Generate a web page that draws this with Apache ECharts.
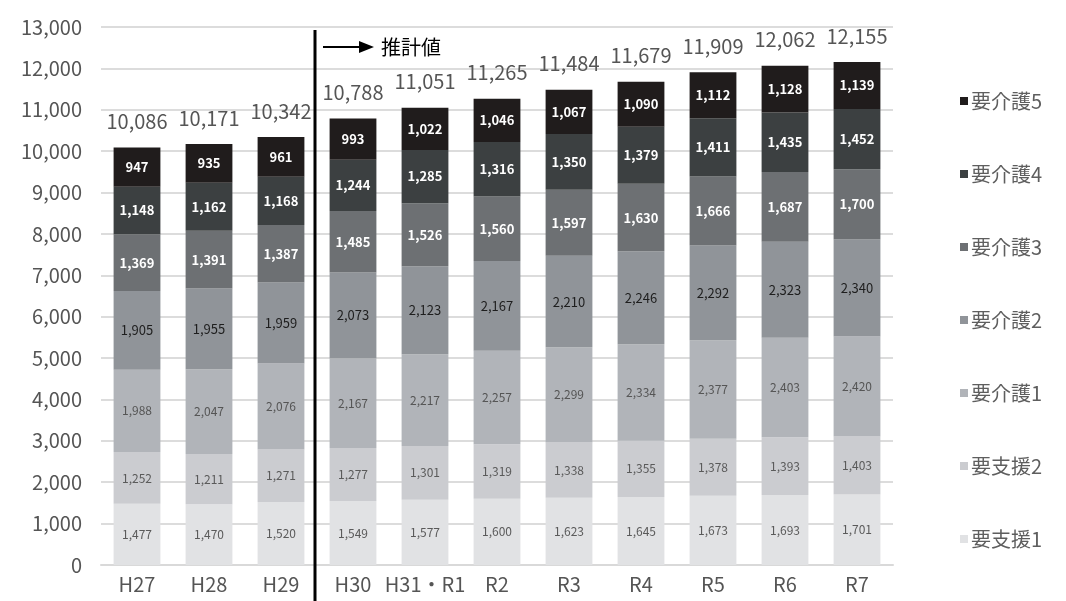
<!DOCTYPE html>
<html lang="ja">
<head>
<meta charset="utf-8">
<title>要介護認定者数の推移</title>
<script src="https://cdn.jsdelivr.net/npm/echarts@6/dist/echarts.min.js"></script>
<style>
  html, body { margin: 0; padding: 0; background: #fff; }
  #chart { width: 1066px; height: 601px; }
</style>
</head>
<body>
<div id="chart"></div>
<script>
// 年度
const categories = ['H27', 'H28', 'H29', 'H30', 'H31・R1', 'R2', 'R3', 'R4', 'R5', 'R6', 'R7'];

// 区分別の認定者数（人）
const shien1 = [1477, 1470, 1520, 1549, 1577, 1600, 1623, 1645, 1673, 1693, 1701];
const shien2 = [1252, 1211, 1271, 1277, 1301, 1319, 1338, 1355, 1378, 1393, 1403];
const kaigo1 = [1988, 2047, 2076, 2167, 2217, 2257, 2299, 2334, 2377, 2403, 2420];
const kaigo2 = [1905, 1955, 1959, 2073, 2123, 2167, 2210, 2246, 2292, 2323, 2340];
const kaigo3 = [1369, 1391, 1387, 1485, 1526, 1560, 1597, 1630, 1666, 1687, 1700];
const kaigo4 = [1148, 1162, 1168, 1244, 1285, 1316, 1350, 1379, 1411, 1435, 1452];
const kaigo5 = [947, 935, 961, 993, 1022, 1046, 1067, 1090, 1112, 1128, 1139];

// 推計値の始まる年度
const estimateFrom = 'H30';
const estimateLabel = '推計値';

const layers = [
  { name: '要支援1', data: shien1, color: '#e1e2e4', text: '#5a5a5a', weight: 'normal' },
  { name: '要支援2', data: shien2, color: '#cbccd0', text: '#5a5a5a', weight: 'normal' },
  { name: '要介護1', data: kaigo1, color: '#b1b4b9', text: '#555555', weight: 'normal' },
  { name: '要介護2', data: kaigo2, color: '#909499', text: '#1e1e1e', weight: 'normal' },
  { name: '要介護3', data: kaigo3, color: '#6d7073', text: '#ffffff', weight: 'bold' },
  { name: '要介護4', data: kaigo4, color: '#3c4041', text: '#ffffff', weight: 'bold' },
  { name: '要介護5', data: kaigo5, color: '#201c1c', text: '#ffffff', weight: 'bold' }
];

const totals = categories.map((_, i) => layers.reduce((s, l) => s + l.data[i], 0));
const fmt = v => v.toLocaleString('en-US');
const FONT = '"Noto Sans CJK JP", "Noto Sans", sans-serif';

const series = layers.map((l, idx) => ({
  name: l.name,
  type: 'bar',
  stack: 'total',
  barWidth: '65%',
  data: l.data,
  itemStyle: { color: l.color },
  label: {
    show: true,
    position: 'inside',
    formatter: p => fmt(p.value),
    color: l.text,
    fontSize: idx < 3 ? 12 : 13,
    fontWeight: l.weight,
    fontFamily: FONT
  },
  emphasis: { disabled: true }
}));

// 合計値を最上段の上に表示
series.push({
  name: '合計',
  type: 'bar',
  stack: 'total',
  data: totals.map(() => 0),
  itemStyle: { color: 'transparent' },
  label: {
    show: true,
    position: 'top',
    distance: 16,
    formatter: p => fmt(totals[p.dataIndex]),
    color: '#555',
    fontSize: 20,
    fontFamily: FONT
  },
  emphasis: { disabled: true },
  silent: true
});

const chart = echarts.init(document.getElementById('chart'), null, { renderer: 'canvas' });

chart.setOption({
  animation: false,
  backgroundColor: '#ffffff',
  grid: { left: 101, right: 173, top: 27, bottom: 36, containLabel: false },
  legend: {
    data: layers.map(l => l.name).reverse(),
    orient: 'vertical',
    left: 955,
    top: 86,
    itemGap: 53,
    itemWidth: 8,
    itemHeight: 8,
    icon: 'rect',
    selectedMode: false,
    textStyle: { color: '#5e5e5e', fontSize: 20, fontFamily: FONT, padding: [0, 0, 0, -2] }
  },
  xAxis: {
    type: 'category',
    data: categories,
    axisLine: { show: true, lineStyle: { color: '#d9d9d9', width: 2 } },
    axisTick: { show: false },
    axisLabel: { color: '#555', fontSize: 20, margin: 9, fontFamily: FONT, interval: 0 }
  },
  yAxis: {
    type: 'value',
    min: 0,
    max: 13000,
    interval: 1000,
    axisLine: { show: false },
    axisTick: { show: false },
    splitLine: { lineStyle: { color: '#dcdcdc', width: 2 } },
    axisLabel: { color: '#555', fontSize: 20, margin: 19, fontFamily: FONT, formatter: v => fmt(v) }
  },
  series: series
});

// 実績と推計の境界線、推計値の矢印
const idx = categories.indexOf(estimateFrom);
const xPrev = chart.convertToPixel({ xAxisIndex: 0 }, categories[idx - 1]);
const xNext = chart.convertToPixel({ xAxisIndex: 0 }, categories[idx]);
const xDiv = (xPrev + xNext) / 2 - 2;
const yArrow = 47;

chart.setOption({
  graphic: [
    {
      type: 'line',
      shape: { x1: xDiv, y1: 30, x2: xDiv, y2: 601 },
      style: { stroke: '#000', lineWidth: 3 },
      z: 10
    },
    {
      type: 'line',
      shape: { x1: xDiv + 8, y1: yArrow, x2: xDiv + 46, y2: yArrow },
      style: { stroke: '#000', lineWidth: 2 },
      z: 10
    },
    {
      type: 'polygon',
      shape: { points: [[xDiv + 44, yArrow - 6], [xDiv + 59, yArrow], [xDiv + 44, yArrow + 6]] },
      style: { fill: '#000' },
      z: 10
    },
    {
      type: 'text',
      x: xDiv + 66,
      y: yArrow,
      style: {
        text: estimateLabel,
        fill: '#000',
        fontSize: 20,
        fontFamily: FONT,
        verticalAlign: 'middle'
      },
      z: 10
    }
  ]
});
</script>
</body>
</html>
